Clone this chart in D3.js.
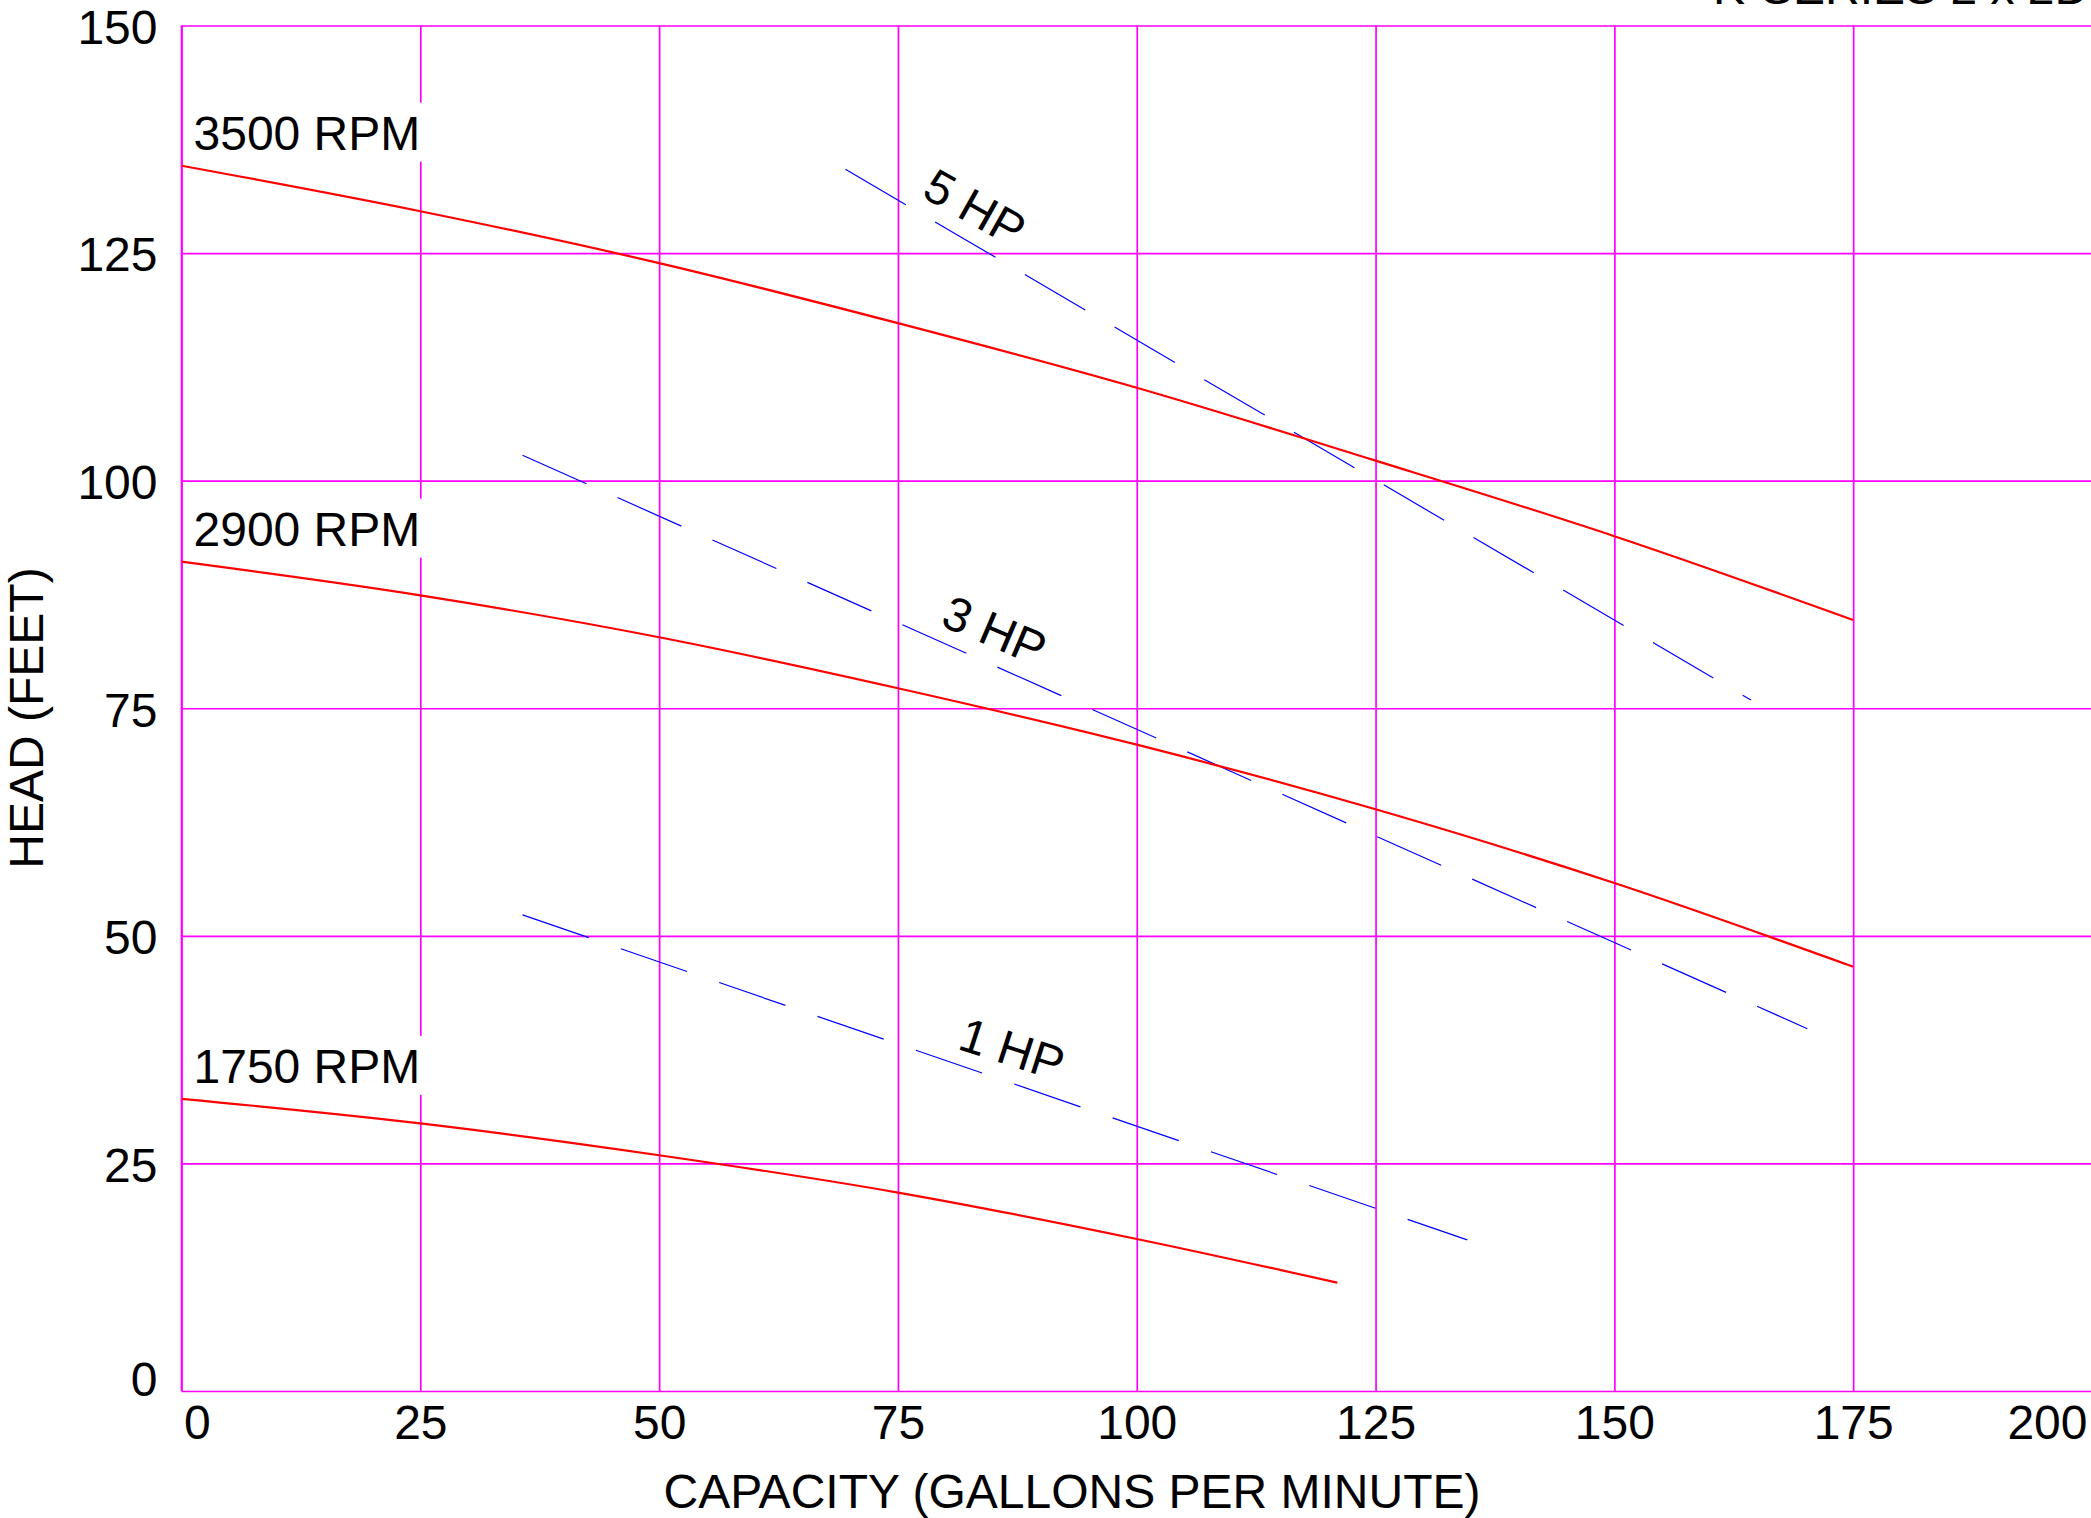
<!DOCTYPE html>
<html>
<head>
<meta charset="utf-8">
<script src="https://cdn.jsdelivr.net/npm/d3@7"></script>
<style>
  html, body { margin: 0; padding: 0; background: #fff; overflow: hidden; }
  svg { display: block; font-family: "Liberation Sans", Arial, Helvetica, sans-serif; }
</style>
</head>
<body>
<svg id="chart" width="2091" height="1518"></svg>
<script>
// ---------- data ----------
const xTicks = [0, 25, 50, 75, 100, 125, 150, 175, 200];
const yTicks = [0, 25, 50, 75, 100, 125, 150];

const capacity = [0, 25, 50, 75, 100, 125, 150, 175];
const head3500 = [134.6, 129.6, 123.9, 117.3, 110.2, 102.2, 93.9, 84.7];
const head2900 = [91.1, 87.4, 82.8, 77.2, 71.0, 63.9, 55.8, 46.6];
const capacity1750 = [0, 25, 50, 75, 100, 121];
const head1750 = [32.1, 29.4, 25.9, 21.8, 16.7, 11.9];

const rpmNames = ["3500 RPM", "2900 RPM", "1750 RPM"];

const hpNames = ["5 HP", "3 HP", "1 HP"];
const hpStartX = [69.5, 35.7, 35.7];
const hpStartY = [134.2, 102.8, 52.3];
const hpEndX = [164.3, 170.2, 134.6];
const hpEndY = [75.9, 39.8, 16.6];
const hpLabelX = [81.4, 83.8, 85.9];

const titleText = "K-SERIES 2 x 2D";
const xTitle = "CAPACITY (GALLONS PER MINUTE)";
const yTitle = "HEAD (FEET)";

// ---------- layout ----------
const svg = d3.select("#chart");
const pL = 181.5, pR = 2092, pT = 25.5, pB = 1391;
const x = d3.scaleLinear().domain([0, 200]).range([pL, pR]);
const y = d3.scaleLinear().domain([0, 150]).range([pB, pT]);

const MAG = "#ff00ff", RED = "#ff0000", BLUE = "#0000ff";
const FS = 48;

// grid via axes
const gx = svg.append("g").attr("transform", `translate(0,${pB})`)
  .call(d3.axisBottom(x).tickValues(xTicks).tickSize(-(pB - pT)).tickPadding(14).tickFormat(d3.format("d")));
gx.select(".domain").remove();
gx.selectAll(".tick line").attr("stroke", MAG).attr("stroke-width", 1.7);
gx.selectAll(".tick text").attr("fill", "#000").attr("font-size", FS)
  .attr("font-family", "Liberation Sans, Arial, sans-serif").attr("dy", null).attr("y", 48);
gx.selectAll(".tick").filter(d => d === 0).select("text").attr("text-anchor", "start").attr("x", 2);
gx.selectAll(".tick").filter(d => d === 200).select("text").attr("text-anchor", "end").attr("x", 2087 - x(200));

const gy = svg.append("g").attr("transform", `translate(${pL},0)`)
  .call(d3.axisLeft(y).tickValues(yTicks).tickSize(-(2091 - pL)).tickPadding(24).tickFormat(d3.format("d")));
gy.select(".domain").remove();
gy.selectAll(".tick line").attr("stroke", MAG).attr("stroke-width", 1.7);
gy.selectAll(".tick text").attr("fill", "#000").attr("font-size", FS)
  .attr("font-family", "Liberation Sans, Arial, sans-serif").attr("dy", "0.37em");
gy.selectAll(".tick").filter(d => d === 0).select("text").attr("dy", "0.1em");

// left border line
svg.append("line").attr("x1", pL).attr("x2", pL).attr("y1", pT).attr("y2", pB)
  .attr("stroke", MAG).attr("stroke-width", 1.7);

// ---------- HP dashed lines ----------
const lineGen = d3.line().x(d => x(d[0])).y(d => y(d[1]));
hpNames.forEach((name, i) => {
  const pts = [[hpStartX[i], hpStartY[i]], [hpEndX[i], hpEndY[i]]];
  svg.append("path").attr("d", lineGen(pts)).attr("fill", "none")
    .attr("stroke", BLUE).attr("stroke-width", 1.2).attr("stroke-dasharray", "70 34");
  const px0 = x(hpStartX[i]), py0 = y(hpStartY[i]), px1 = x(hpEndX[i]), py1 = y(hpEndY[i]);
  const ang = Math.atan2(py1 - py0, px1 - px0) * 180 / Math.PI;
  const t = (hpLabelX[i] - hpStartX[i]) / (hpEndX[i] - hpStartX[i]);
  const lx = x(hpLabelX[i]);
  const ly = py0 + t * (py1 - py0);
  svg.append("text")
    .attr("transform", `translate(${lx},${ly}) rotate(${ang - 1}) translate(0,-33)`)
    .attr("text-anchor", "middle").attr("dy", "0.36em")
    .attr("font-size", FS).attr("fill", "#000").text(name);
});

// ---------- RPM curves ----------
const curve = d3.line().x(d => x(d[0])).y(d => y(d[1])).curve(d3.curveMonotoneX);
const series = [
  d3.zip(capacity, head3500),
  d3.zip(capacity, head2900),
  d3.zip(capacity1750, head1750)
];
series.forEach((s, i) => {
  svg.append("path").attr("d", curve(s)).attr("fill", "none")
    .attr("stroke", RED).attr("stroke-width", 2.2);
});

// RPM labels with white backgrounds
series.forEach((s, i) => {
  const g = svg.append("g");
  const rect = g.append("rect").attr("fill", "#fff");
  const tx = g.append("text").attr("x", x(0) + 12).attr("y", y(s[0][1]) - 16)
    .attr("font-size", FS).attr("fill", "#000").text(rpmNames[i]);
  const bb = tx.node().getBBox();
  rect.attr("x", x(0) + 4).attr("y", bb.y - 4).attr("width", bb.width + 16).attr("height", bb.height + 6);
});

// ---------- titles ----------
svg.append("text").attr("x", 1072).attr("y", 1508).attr("text-anchor", "middle")
  .attr("font-size", FS).attr("fill", "#000").text(xTitle);
svg.append("text").attr("transform", "translate(43,718) rotate(-90)").attr("text-anchor", "middle")
  .attr("font-size", FS).attr("fill", "#000").text(yTitle);
svg.append("text").attr("x", 1713).attr("y", 4).attr("font-size", FS).attr("fill", "#000").text(titleText);
</script>
</body>
</html>
